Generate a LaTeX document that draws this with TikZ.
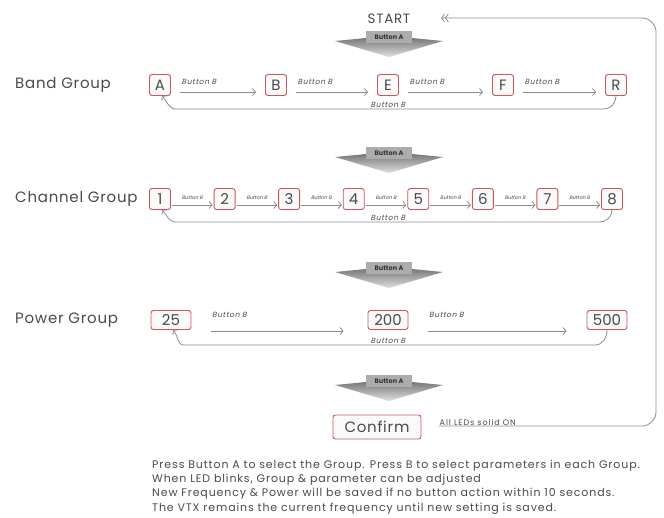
\documentclass[tikz,border=0pt]{standalone}
\usepackage{fontspec}
\setmainfont{Poppins}
\newfontfamily\slfont[FakeSlant=0.22,LetterSpace=8]{Poppins}
\newfontfamily\tslfont[FakeSlant=0.22]{Poppins}
\newfontfamily\wfont[LetterSpace=5]{Poppins}
\newfontfamily\nfont[LetterSpace=8]{Poppins}
\newfontfamily\lfont[LetterSpace=12]{Poppins}
\usetikzlibrary{arrows.meta}
\definecolor{boxred}{HTML}{D0555A}
\definecolor{arrgray}{HTML}{8C8C8C}
\definecolor{txt}{HTML}{4A4A4A}
\tikzset{
  lbox/.style={draw=boxred, rounded corners=2.5pt, line width=0.9pt, fill=gray!4,
    minimum width=21pt, minimum height=21pt, inner sep=1.5pt, text=txt,
    font=\fontsize{15}{15}\selectfont},
  grp/.style={anchor=west, text=txt, font=\wfont\fontsize{15}{15}\selectfont, inner sep=0pt},
  garrow/.style={draw=arrgray, line width=0.8pt, -{Straight Barb[length=3pt,width=7pt]}},
  blab/.style={text=txt, font=\slfont\fontsize{7.5}{7.5}\selectfont, inner sep=0.5pt},
  tlab/.style={text=txt, font=\tslfont\fontsize{5}{5}\selectfont, inner sep=0.3pt},
  btnlab/.style={fill=gray!65, text=black!80, font=\fontsize{6.5}{6.5}\bfseries,
    inner sep=1pt, minimum width=46pt, minimum height=12pt},
}
\newcommand\btnA[2]{%
  \shade[top color=gray!95!black, bottom color=gray!25]
    (335,#2+4) -- (366,#2+1) -- (412,#2+1) -- (443,#2+4) -- (389,#2+20) -- cycle;
  \node[btnlab] (#1) at (389,#2) {Button A};
}
\begin{document}
\begin{tikzpicture}[x=1pt,y=-1pt]
\useasboundingbox[fill=white] (0,0) rectangle (664,517);

% START
\node[text=txt, font=\wfont\fontsize{13.5}{13.5}\selectfont] (start) at (389,19) {START};
\btnA{bA1}{37}

% Band group
\node[grp] (bandg) at (15,85) {Band Group};
\foreach \n/\x in {A/160,B/276,E/388,F/503,R/616}
  \node[lbox] (b\n) at (\x,85) {\n};
\foreach \a/\b in {A/B,B/E,E/F,F/R}{
  \draw[garrow] ([xshift=9pt,yshift=-7pt]b\a.east) -- ([xshift=-9pt,yshift=-7pt]b\b.west);
  \node[blab, anchor=west] at ([xshift=10pt,yshift=3pt]b\a.east) {Button B};
}
\draw[garrow] (bR.south) to[out=-90,in=0] (604,109) -- (176,109) to[out=180,in=-45] ([xshift=2pt]bA.south);
\node[blab] (bret) at (388,105) {Button B};

% Channel group
\btnA{bA2}{153}
\node[grp] (chg) at (15,199) {Channel Group};
\foreach \n in {1,...,8}
  \node[lbox] (c\n) at ({160+(\n-1)*64.57},199) {\n};
\foreach \a/\b in {1/2,2/3,3/4,4/5,5/6,6/7,7/8}{
  \draw[garrow] ([xshift=1pt,yshift=-6pt]c\a.east) -- ([xshift=-1pt,yshift=-6pt]c\b.west)
    node[tlab, midway, anchor=south, yshift=5pt] {Button B};
}
\draw[garrow] (c8.south) to[out=-90,in=0] (600,222) -- (176,222) to[out=180,in=-45] ([xshift=2pt]c1.south);
\node[blab] (cret) at (388,218) {Button B};

% Power group
\btnA{bA3}{268}
\node[grp] (pwg) at (15,320) {Power Group};
\node[lbox, minimum width=40pt, minimum height=19pt] (p25) at (171,320) {25};
\node[lbox, minimum width=40pt, minimum height=19pt] (p200) at (388,320) {200};
\node[lbox, minimum width=40pt, minimum height=19pt] (p500) at (607,320) {500};
\draw[garrow] ([xshift=20pt,yshift=-11pt]p25.east) -- ([xshift=-24pt,yshift=-11pt]p200.west);
\node[blab, anchor=west] at ([xshift=20pt,yshift=5pt]p25.east) {Button B};
\draw[garrow] ([xshift=20pt,yshift=-11pt]p200.east) -- ([xshift=-20pt,yshift=-11pt]p500.west);
\node[blab, anchor=west] at ([xshift=20pt,yshift=5pt]p200.east) {Button B};
\draw[garrow] (p500.south) to[out=-90,in=0] (595,345) -- (184,345) to[out=180,in=-45] ([xshift=2pt]p25.south);
\node[blab] (pret) at (388,341) {Button B};

% Confirm
\btnA{bA4}{381}
\node[lbox, minimum width=88pt, minimum height=24pt, font=\wfont\fontsize{15}{15}\selectfont] (conf) at (377,427) {Confirm};
\node[text=txt, inner sep=0.5pt, font=\lfont\fontsize{8}{8}\selectfont, anchor=south west] (alled) at (439,426) {All LEDs solid ON};
\coordinate (loopend) at (441,18);
\draw[draw=arrgray, line width=0.8pt, rounded corners=14pt,
  -{Straight Barb[length=3pt,width=8pt] Straight Barb[length=3pt,width=8pt]}]
  (alled.south west) -- (656,426) -- (656,18) -- (loopend);

% Notes
\node[anchor=north west, align=left, text=txt, inner sep=0pt,
  font=\nfont\fontsize{11}{14.2}\selectfont] (notes) at (152,460)
  {Press Button A to select the Group. Press B to select parameters in each Group.\\
   When LED blinks, Group \& parameter can be adjusted\\
   New Frequency \& Power will be saved if no button action within 10 seconds.\\
   The VTX remains the current frequency until new setting is saved.};
\end{tikzpicture}
\end{document}
